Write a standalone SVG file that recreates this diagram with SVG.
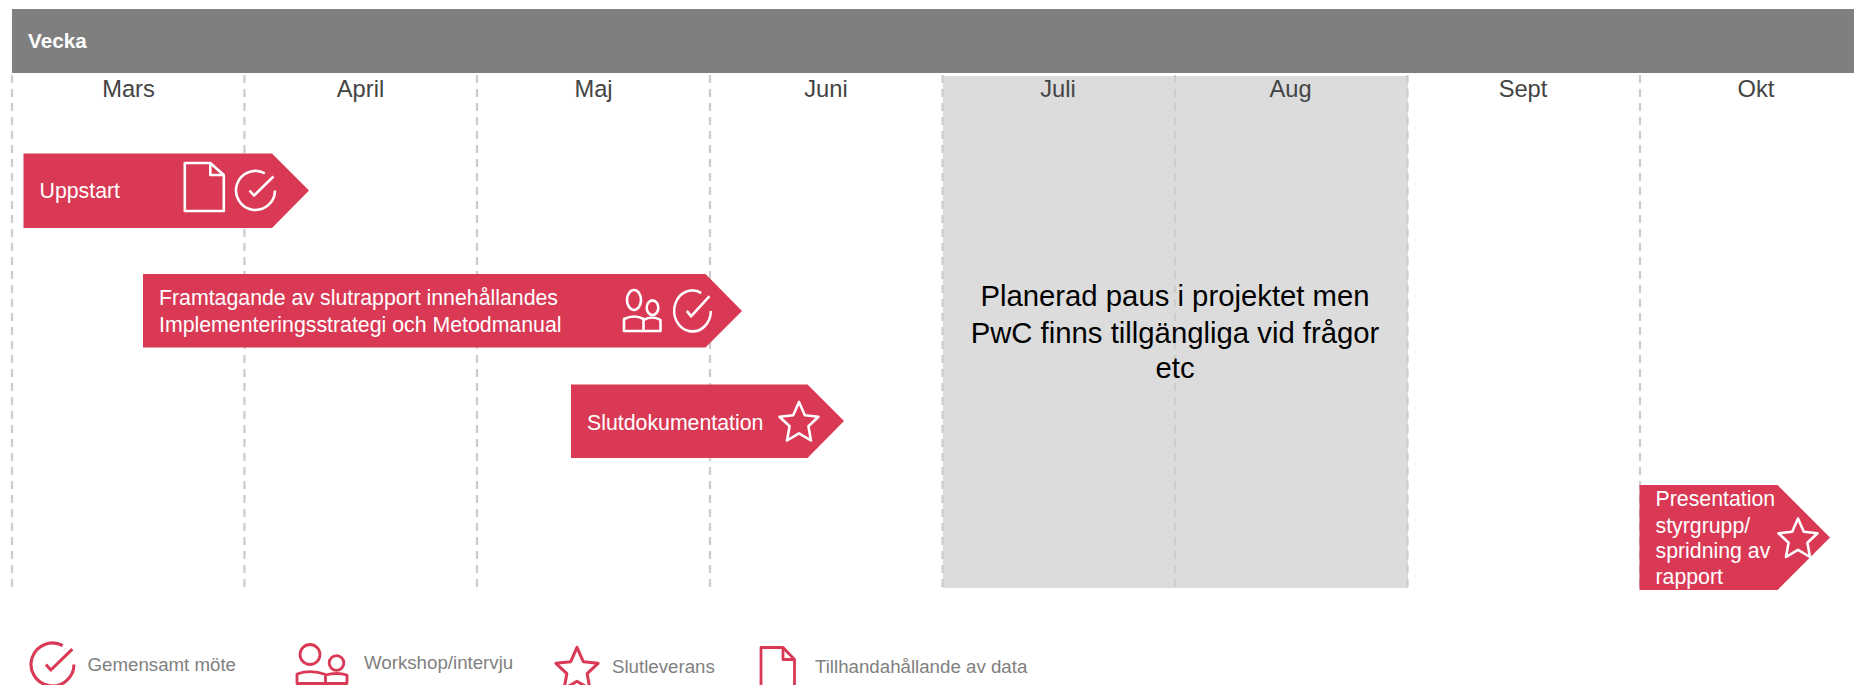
<svg xmlns="http://www.w3.org/2000/svg" width="1854" height="685" viewBox="0 0 1854 685">
<style>
text{font-family:"Liberation Sans",Arial,sans-serif}
.m{font-size:23.7px;fill:#444;text-anchor:middle}
.w{font-size:21.3px;fill:#fff}
.l{font-size:18.7px;fill:#808080}
.g{stroke:#ccc;stroke-width:2.2;stroke-dasharray:8 6;fill:none}
.a{fill:#da3955}
.iw{fill:none;stroke:#fff;stroke-width:2.6;stroke-linejoin:round}
.ir{fill:none;stroke:#da3955;stroke-width:2.8;stroke-linejoin:round}
</style>
<defs>
<g id="check"><path d="M9.300-17.200A19.500 19.500 0 1 0 19.500 0"/><path d="M-6 0L-1.500 5L18-14"/></g>
<g id="star"><path d="M0-19.500L5.800-6.300L19.500-4.800L9.400 4.800L12 19L0 11.800L-12 19L-9.400 4.800L-19.500-4.800L-5.800-6.300Z"/></g>
<g id="doc"><path d="M-19.500-24H6L19.500-12V24H-19.500Z"/><path d="M6-24V-12H19.500"/></g>
<g id="people"><ellipse cx="-8.500" cy="-11" rx="7" ry="10"/><ellipse cx="10" cy="-3.300" rx="5.800" ry="7.300"/><path d="M-18.500 20V8Q-8 3 1 8V20ZM1 9Q10 4 18 9V20H1"/></g>
</defs>
<rect id="header" x="12" y="9" width="1842" height="64" fill="#7f7f7f"/>
<text x="28" y="48" font-size="20.700" font-weight="700" fill="#fff">Vecka</text>
<rect id="pause-bg" x="943" y="76" width="465" height="512" fill="#dcdcdc"/>
<g id="connectors">
<path class="g" d="M12 75V588M244.500 75V588M477 75V588M710 75V588M942.500 75V588M1175 75V588M1407.500 75V588M1640 75V588"/>
</g>
<g id="months">
<text class="m" x="128.500" y="97">Mars</text>
<text class="m" x="360.500" y="97">April</text>
<text class="m" x="593.500" y="97">Maj</text>
<text class="m" x="826" y="97">Juni</text>
<text class="m" x="1058" y="97">Juli</text>
<text class="m" x="1290.500" y="97">Aug</text>
<text class="m" x="1523" y="97">Sept</text>
<text class="m" x="1756" y="97">Okt</text>
</g>
<g id="pause-note" font-size="29.300" text-anchor="middle" fill="#000">
<text x="1175" y="306">Planerad paus i projektet men</text>
<text x="1175" y="343">PwC finns tillgängliga vid frågor</text>
<text x="1175" y="378">etc</text>
</g>
<g id="uppstart">
<path class="a" d="M23.500 153.500H272L309 190.500L272 228H23.500Z"/>
<text class="w" x="39.500" y="198">Uppstart</text>
<use href="#doc" class="iw" x="204.300" y="187"/>
<use href="#check" class="iw" x="255.500" y="190.500"/>
</g>
<g id="framtagande">
<path class="a" d="M143 274H705.500L742 311L705.500 347.500H143Z"/>
<text class="w" x="159" y="305">Framtagande av slutrapport innehållandes</text>
<text class="w" x="159" y="332">Implementeringsstrategi och Metodmanual</text>
<use href="#people" class="iw" x="642.500" y="311"/>
<use href="#check" class="iw" transform="translate(692.500 311) scale(.94 1.05)"/>
</g>
<g id="slutdokumentation">
<path class="a" d="M571 384.500H807.500L844 421L807.500 458H571Z"/>
<text class="w" x="587" y="430">Slutdokumentation</text>
<use href="#star" class="iw" x="799" y="421.500"/>
</g>
<g id="presentation">
<path class="a" d="M1639.500 485H1777.500L1830 537.500L1777.500 590H1639.500Z"/>
<text class="w" x="1655.500" y="506">Presentation</text>
<text class="w" x="1655.500" y="533">styrgrupp/</text>
<text class="w" x="1655.500" y="558">spridning av</text>
<text class="w" x="1655.500" y="584">rapport</text>
<use href="#star" class="iw" x="1798" y="538"/>
</g>
<g id="legend-check">
<use href="#check" class="ir" transform="translate(52.500 664.500) scale(1.1)"/>
<text class="l" x="87.500" y="671">Gemensamt möte</text>
</g>
<g id="legend-people">
<circle class="ir" cx="310" cy="654.500" r="10"/>
<circle class="ir" cx="336.500" cy="663" r="7.300"/>
<path class="ir" d="M297 683.500V674Q311 669 325.500 674.500V683.500ZM325.500 675Q337 672 347 675V683.500H325.500"/>
<text class="l" x="364" y="669">Workshop/intervju</text>
</g>
<g id="legend-star">
<use href="#star" class="ir" transform="translate(577 668.500) scale(1.08)"/>
<text class="l" x="612" y="673">Slutleverans</text>
</g>
<g id="legend-doc">
<path class="ir" d="M761 647.500H783L794.500 659.500V695H761Z"/>
<path class="ir" d="M783 647.500V659.500H794.500"/>
<text class="l" x="815" y="673">Tillhandahållande av data</text>
</g>
</svg>
